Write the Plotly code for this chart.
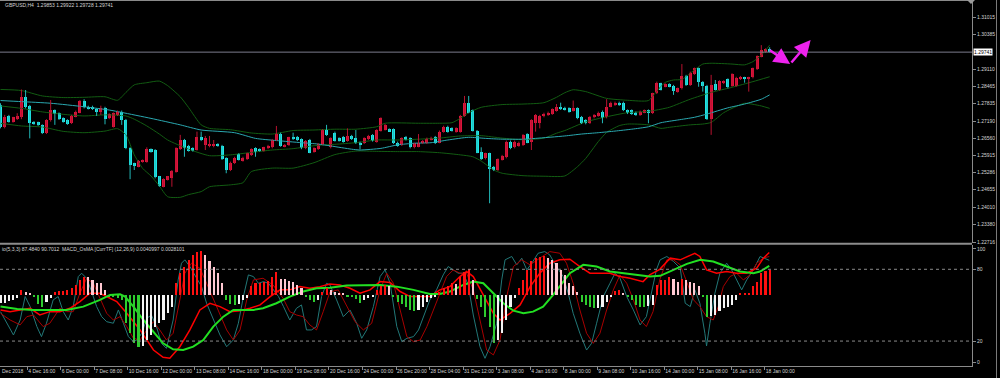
import plotly.graph_objects as go

# ---------------- price data (GBPUSD H4, bar index 0..184) ----------------
opens = [1.2779,1.2698,1.2738,1.2717,1.2727,1.2735,1.2809,1.2776,1.2717,1.2714,
         1.2703,1.2676,1.2723,1.2760,1.2748,1.2729,1.2723,1.2711,1.2735,1.2750,
         1.2795,1.2772,1.2772,1.2762,1.2751,1.2769,1.2729,1.2698,1.2742,1.2754,
         1.2723,1.2618,1.2563,1.2550,1.2569,1.2569,1.2615,1.2612,1.2514,1.2476,
         1.2501,1.2507,1.2532,1.2615,1.2649,1.2627,1.2618,1.2612,1.2661,1.2631,
         1.2627,1.2627,1.2633,1.2627,1.2581,1.2538,1.2563,1.2596,1.2573,1.2577,
         1.2594,1.2618,1.2615,1.2610,1.2618,1.2622,1.2649,1.2671,1.2624,1.2631,
         1.2659,1.2659,1.2653,1.2618,1.2649,1.2606,1.2615,1.2634,1.2686,1.2622,
         1.2676,1.2655,1.2661,1.2647,1.2664,1.2655,1.2639,1.2637,1.2652,1.2668,
         1.2643,1.2684,1.2686,1.2689,1.2689,1.2639,1.2631,1.2659,1.2655,1.2622,
         1.2624,1.2637,1.2637,1.2649,1.2661,1.2639,1.2680,1.2698,1.2692,1.2680,
         1.2680,1.2738,1.2785,1.2760,1.2684,1.2606,1.2581,1.2600,1.2550,1.2538,
         1.2575,1.2585,1.2643,1.2622,1.2627,1.2631,1.2671,1.2643,1.2713,1.2713,
         1.2738,1.2742,1.2745,1.2758,1.2772,1.2769,1.2766,1.2758,1.2766,1.2735,
         1.2723,1.2711,1.2733,1.2738,1.2754,1.2733,1.2772,1.2779,1.2787,1.2787,
         1.2760,1.2760,1.2750,1.2742,1.2750,1.2760,1.2748,1.2822,1.2859,1.2846,
         1.2856,1.2849,1.2828,1.2840,1.2886,1.2853,1.2893,1.2914,1.2865,1.2849,
         1.2726,1.2856,1.2834,1.2859,1.2873,1.2849,1.2849,1.2873,1.2881,1.2873,
         1.2881,1.2910,1.2957,1.2976,1.29853]
highs = [1.2785,1.2742,1.2742,1.2735,1.2748,1.2836,1.2834,1.2779,1.2719,1.2717,
         1.2707,1.2726,1.2797,1.2762,1.2751,1.2733,1.2726,1.2742,1.2758,1.2797,
         1.2800,1.2776,1.2776,1.2766,1.2776,1.2772,1.2748,1.2751,1.2758,1.2758,
         1.2727,1.2622,1.2565,1.2575,1.2577,1.2622,1.2618,1.2615,1.2516,1.2507,
         1.2516,1.2538,1.2622,1.2668,1.2653,1.2631,1.2622,1.2680,1.2680,1.2664,
         1.2664,1.2649,1.2637,1.2631,1.2585,1.2569,1.2587,1.2600,1.2587,1.2602,
         1.2618,1.2622,1.2618,1.2624,1.2631,1.2653,1.2701,1.2676,1.2634,1.2661,
         1.2676,1.2664,1.2655,1.2649,1.2653,1.2622,1.2637,1.2689,1.2705,1.2659,
         1.2680,1.2659,1.2664,1.2692,1.2668,1.2686,1.2643,1.2659,1.2668,1.2671,
         1.2689,1.2733,1.2708,1.2692,1.2692,1.2643,1.2659,1.2664,1.2659,1.2639,
         1.2671,1.2649,1.2658,1.2661,1.2664,1.2684,1.2702,1.2702,1.2696,1.2696,
         1.2742,1.2812,1.2812,1.2762,1.2686,1.2622,1.2602,1.2602,1.2553,1.2581,
         1.2594,1.2647,1.2647,1.2647,1.2643,1.2671,1.2674,1.2726,1.2745,1.2742,
         1.2750,1.2754,1.2766,1.2782,1.2787,1.2772,1.2770,1.2795,1.2770,1.2738,
         1.2726,1.2738,1.2745,1.2754,1.2758,1.2800,1.2791,1.2791,1.2791,1.2791,
         1.2762,1.2762,1.2754,1.2758,1.2762,1.2762,1.2824,1.2865,1.2861,1.2859,
         1.2859,1.2853,1.2843,1.2930,1.2890,1.2902,1.2917,1.2917,1.2867,1.2853,
         1.2890,1.2871,1.2870,1.2870,1.2877,1.2896,1.2883,1.2886,1.2883,1.2883,
         1.2917,1.2962,1.3000,1.2988,1.29922]
lows = [1.2692,1.2692,1.2713,1.2713,1.2723,1.2726,1.2766,1.2655,1.2705,1.2701,
        1.2671,1.2671,1.2717,1.2705,1.2723,1.2713,1.2705,1.2708,1.2733,1.2748,
        1.2766,1.2762,1.2760,1.2738,1.2742,1.2707,1.2726,1.2695,1.2738,1.2705,
        1.2615,1.2504,1.2538,1.2548,1.2565,1.2565,1.2602,1.2507,1.2476,1.2474,
        1.2499,1.2476,1.2528,1.2612,1.2587,1.2606,1.2606,1.2610,1.2645,1.2612,
        1.2622,1.2622,1.2624,1.2575,1.2526,1.2534,1.2560,1.2573,1.2569,1.2575,
        1.2590,1.2587,1.2606,1.2606,1.2615,1.2618,1.2645,1.2624,1.2622,1.2627,
        1.2649,1.2645,1.2615,1.2615,1.2600,1.2602,1.2612,1.2631,1.2664,1.2618,
        1.2643,1.2643,1.2639,1.2643,1.2649,1.2634,1.2615,1.2634,1.2649,1.2643,
        1.2639,1.2680,1.2684,1.2680,1.2634,1.2624,1.2627,1.2647,1.2618,1.2618,
        1.2622,1.2634,1.2634,1.2647,1.2634,1.2637,1.2676,1.2676,1.2680,1.2676,
        1.2676,1.2735,1.2748,1.2680,1.2600,1.2575,1.2577,1.2415,1.2534,1.2534,
        1.2573,1.2581,1.2615,1.2618,1.2624,1.2627,1.2637,1.2612,1.2680,1.2692,
        1.2733,1.2738,1.2742,1.2754,1.2760,1.2758,1.2750,1.2754,1.2726,1.2708,
        1.2707,1.2708,1.2729,1.2735,1.2711,1.2729,1.2770,1.2775,1.2775,1.2756,
        1.2745,1.2742,1.2738,1.2738,1.2748,1.2711,1.2745,1.2819,1.2832,1.2844,
        1.2844,1.2816,1.2824,1.2836,1.2849,1.2849,1.2890,1.2846,1.2828,1.2723,
        1.2668,1.2832,1.2832,1.2856,1.2840,1.2846,1.2846,1.2871,1.2861,1.2828,
        1.2877,1.2908,1.2955,1.2972,1.29728]
closes = [1.2698,1.2735,1.2717,1.2733,1.2738,1.2809,1.2772,1.2711,1.2708,1.2705,
          1.2676,1.2723,1.2760,1.2745,1.2726,1.2717,1.2708,1.2738,1.2754,1.2795,
          1.2770,1.2766,1.2762,1.2754,1.2769,1.2726,1.2745,1.2748,1.2754,1.2723,
          1.2618,1.2557,1.2553,1.2571,1.2575,1.2615,1.2606,1.2511,1.2479,1.2504,
          1.2514,1.2534,1.2618,1.2649,1.2618,1.2610,1.2610,1.2659,1.2649,1.2655,
          1.2631,1.2631,1.2627,1.2577,1.2538,1.2565,1.2584,1.2575,1.2584,1.2600,
          1.2615,1.2606,1.2610,1.2622,1.2628,1.2649,1.2671,1.2627,1.2631,1.2659,
          1.2653,1.2649,1.2618,1.2647,1.2602,1.2618,1.2634,1.2686,1.2668,1.2655,
          1.2647,1.2647,1.2643,1.2664,1.2652,1.2637,1.2631,1.2655,1.2664,1.2645,
          1.2686,1.2729,1.2705,1.2682,1.2637,1.2627,1.2655,1.2649,1.2622,1.2637,
          1.2637,1.2645,1.2654,1.2658,1.2637,1.2680,1.2698,1.2680,1.2682,1.2692,
          1.2738,1.2785,1.2750,1.2684,1.2602,1.2577,1.2600,1.2542,1.2538,1.2577,
          1.2590,1.2643,1.2618,1.2643,1.2639,1.2668,1.2639,1.2723,1.2742,1.2738,
          1.2745,1.2750,1.2762,1.2772,1.2762,1.2760,1.2754,1.2766,1.2729,1.2713,
          1.2711,1.2735,1.2742,1.2750,1.2729,1.2772,1.2787,1.2787,1.2779,1.2760,
          1.2748,1.2745,1.2742,1.2754,1.2760,1.2748,1.2822,1.2859,1.2834,1.2856,
          1.2846,1.2832,1.2840,1.2886,1.2853,1.2898,1.2914,1.2865,1.2849,1.2726,
          1.2853,1.2834,1.2867,1.2867,1.2844,1.2893,1.2877,1.2883,1.2873,1.2881,
          1.2914,1.2960,1.2982,1.2984,1.29741]

# Bollinger bands (bar index, price) and slow moving average
bb_upper = [(0,1.2836),(5,1.2832),(10,1.2812),(15,1.2806),(20,1.2807),(25,1.2809),(28,1.2796),
            (30,1.2825),(32,1.2853),(35,1.2861),(38,1.2867),(40,1.2850),(43,1.2809),(45,1.2769),
            (48,1.2705),(50,1.2692),(55,1.2687),(60,1.2675),(65,1.2671),(70,1.2684),(75,1.2686),
            (80,1.2689),(85,1.2689),(90,1.2698),(92,1.2711),(100,1.2711),(105,1.2711),(108,1.2713),
            (110,1.2729),(112,1.2750),(115,1.2770),(120,1.2780),(125,1.2782),(130,1.2787),(133,1.2807),
            (135,1.2824),(137,1.2835),(140,1.2828),(145,1.2803),(150,1.2796),(155,1.2795),(157,1.2830),
            (159,1.2862),(161,1.2871),(163,1.2873),(165,1.2896),(168,1.2930),(170,1.2933),(175,1.2930),
            (178,1.2927),(180,1.2939),(182,1.2963),(184,1.3000)]
bb_middle = [(0,1.2775),(5,1.2766),(10,1.2753),(15,1.2744),(20,1.2738),(25,1.2742),(30,1.2738),
             (32,1.2726),(35,1.2701),(38,1.2671),(40,1.2649),(45,1.2615),(50,1.2591),(55,1.2594),
             (60,1.2603),(65,1.2612),(70,1.2617),(75,1.2628),(80,1.2633),(85,1.2639),(90,1.2649),
             (95,1.2649),(100,1.2652),(105,1.2656),(110,1.2664),(115,1.2665),(120,1.2656),(125,1.2650),
             (130,1.2656),(133,1.2674),(135,1.2684),(140,1.2716),(145,1.2735),(150,1.2750),(155,1.2755),
             (158,1.2763),(160,1.2770),(165,1.2800),(170,1.2825),(175,1.2844),(180,1.2865),(184,1.2883)]
bb_lower = [(0,1.2711),(5,1.2701),(10,1.2697),(15,1.2681),(20,1.2676),(25,1.2682),(28,1.2691),
            (30,1.2668),(32,1.2594),(34,1.2544),(36,1.2516),(38,1.2479),(40,1.2439),(43,1.2437),
            (45,1.2447),(48,1.2458),(50,1.2476),(55,1.2483),(58,1.2491),(60,1.2532),(65,1.2545),
            (70,1.2545),(75,1.2565),(80,1.2595),(85,1.2608),(90,1.2607),(95,1.2606),(100,1.2606),
            (105,1.2602),(110,1.2594),(113,1.2587),(115,1.2571),(118,1.2538),(120,1.2526),(125,1.2517),
            (130,1.2515),(135,1.2516),(138,1.2550),(140,1.2581),(143,1.2643),(145,1.2677),(148,1.2702),
            (150,1.2708),(155,1.2705),(158,1.2692),(160,1.2696),(165,1.2705),(168,1.2708),(170,1.2714),
            (173,1.2750),(175,1.2766),(178,1.2785),(180,1.2781),(182,1.2775),(184,1.2766)]
slow_ma = [(0,1.2795),(5,1.2791),(12,1.2785),(20,1.2772),(26,1.2760),(29,1.2751),(36,1.2729),
           (43,1.2705),(48,1.2686),(56,1.2676),(61,1.2655),(66,1.2647),(72,1.2639),(76,1.2634),
           (79,1.2627),(84,1.2615),(86,1.2612),(91,1.2618),(95,1.2631),(99,1.2637),(103,1.2639),
           (107,1.2649),(112,1.2659),(116,1.2655),(120,1.2652),(125,1.2652),(128,1.2655),(135,1.2664),
           (139,1.2671),(143,1.2676),(147,1.2682),(151,1.2689),(155,1.2698),(158,1.2713),(162,1.2723),
           (166,1.2733),(169,1.2745),(174,1.2768),(178,1.2782),(182,1.2800),(184,1.2816)]

last_price = 1.29741
price_ticks = [1.31015,1.30385,1.29110,1.28465,1.27835,1.27190,1.26560,1.25915,1.25286,
               1.24655,1.24010,1.23380,1.22716]
forecast_bar = [183.7, 188.9, 193.8]
forecast_price = [1.29846, 1.29302, 1.30190]

# ---------------- indicator data ----------------
stoch_main = [(0,44.6),(1.5,34.9),(3.1,25.1),(4.7,37.6),(5.9,57.2),(7.1,48.8),(8.7,32.1),(9.8,23.7),
              (11.0,34.9),(12.6,54.4),(13.8,57.2),(15.0,44.6),(16.2,37.6),(17.4,48.8),(18.6,73.9),
              (19.4,76.7),(20.6,72.5),(21.8,61.4),(23.0,48.8),(24.2,40.4),(25.4,36.2),(27.0,34.9),
              (28.2,46.0),(29.4,34.9),(30.6,23.7),(31.8,19.5),(32.6,20.9),(33.8,26.5),(35.0,39.0),
              (36.1,41.8),(37.3,32.1),(38.5,18.1),(39.7,13.9),(41.3,37.6),(42.5,71.1),(43.3,85.1),
              (44.1,87.9),(45.3,82.3),(46.9,72.5),(48.1,65.5),(49.3,51.6),(50.9,37.6),(52.5,25.1),
              (54.1,15.3),(55.7,20.9),(56.9,34.9),(58.1,57.2),(59.3,75.3),(60.5,73.9),(61.7,68.3),
              (62.9,69.7),(64.1,68.3),(65.3,62.8),(66.5,57.2),(67.7,48.8),(69.2,37.6),(70.8,47.4),
              (72.0,50.2),(73.2,29.3),(74.4,29.3),(75.6,32.1),(76.8,57.2),(78.0,68.3),(78.8,66.9),
              (80.4,54.4),(82.0,40.4),(83.6,46.0),(85.2,34.9),(86.4,22.3),(87.6,29.3),(89.2,48.8),
              (90.8,73.9),(92.0,79.5),(93.2,68.3),(94.8,32.1),(96.0,19.5),(97.2,22.3),(98.8,23.7),
              (100.0,29.3),(101.2,40.4),(102.7,54.4),(104.3,62.8),(105.9,75.3),(107.1,82.3),(108.3,79.5),
              (109.5,76.7),(110.7,76.7),(111.9,66.9),(113.1,41.8),(114.7,15.3),(115.9,5.6),(117.1,15.3),
              (118.7,34.9),(119.9,71.1),(120.7,87.9),(122.3,90.7),(123.5,83.7),(124.7,89.3),(125.9,79.5),
              (127.1,85.1),(128.6,93.4),(130.2,94.8),(131.4,92.0),(133.0,82.3),(134.6,73.9),(135.8,60.0),
              (137.0,43.2),(138.6,26.5),(140.2,12.5),(141.4,18.1),(142.6,34.9),(144.2,57.2),(145.8,68.3),
              (147.0,76.7),(148.2,72.5),(149.8,57.2),(151.4,46.0),(153.0,33.5),(154.5,40.4),(155.7,60.0),
              (156.9,79.5),(157.8,87.9),(159.4,90.7),(161.0,86.5),(162.6,80.9),(163.8,51.6),(165.0,48.8),
              (166.1,62.8),(167.3,51.6),(168.5,26.5),(168.9,15.9),(169.7,34.9),(170.9,60.0),(172.1,76.7),
              (173.7,85.1),(174.9,79.5),(176.1,71.1),(177.3,62.8),(178.5,71.1),(180.1,79.5),(181.7,90.7),
              (182.9,89.3),(183.9,87.5)]
stoch_signal = [(0,43.2),(2.3,37.6),(4.7,33.5),(6.3,40.4),(7.9,41.8),(10.2,32.1),(11.8,34.9),(14.2,47.4),
                (15.8,44.6),(17.4,44.6),(19.0,60.0),(20.6,72.5),(22.2,68.3),(23.8,55.8),(25.4,43.2),
                (27.0,37.6),(28.6,40.4),(30.2,32.1),(31.8,22.3),(33.4,20.9),(35.0,29.3),(36.6,36.2),
                (38.1,29.3),(39.7,20.9),(41.3,26.5),(42.9,54.4),(44.1,76.7),(45.7,85.1),(47.7,80.9),
                (49.3,68.3),(51.7,48.8),(54.1,29.3),(55.7,20.9),(57.3,29.3),(58.9,54.4),(60.5,71.1),
                (62.8,72.5),(65.2,66.9),(67.6,55.8),(69.2,44.6),(70.8,41.8),(72.4,40.4),(74.0,33.5),
                (75.6,29.3),(77.2,44.6),(78.8,61.0),(80.8,62.8),(82.8,48.8),(84.8,36.2),(86.8,29.3),
                (88.8,34.9),(90.8,62.8),(92.4,76.7),(94.0,68.3),(95.6,46.0),(97.2,23.7),(98.8,19.5),
                (100.4,20.9),(102.0,32.1),(103.5,46.0),(105.1,60.0),(106.7,73.9),(108.3,79.5),(109.9,76.7),
                (111.5,76.7),(113.1,62.8),(114.7,37.6),(116.3,12.5),(117.9,8.4),(119.5,20.9),(121.1,57.2),
                (122.7,82.3),(124.7,87.9),(126.7,83.7),(129.0,89.3),(131.4,94.8),(133.8,93.4),(135.4,85.1),
                (137.0,68.3),(138.6,46.0),(140.2,26.5),(141.8,18.1),(143.4,26.5),(145.0,46.0),(146.6,62.8),
                (148.2,75.3),(149.8,68.3),(151.4,54.4),(153.0,37.6),(154.5,32.1),(156.1,44.6),(157.7,71.1),
                (159.4,87.9),(161.0,87.9),(162.6,83.7),(164.2,68.3),(165.8,54.4),(167.3,48.8),(168.9,40.4),
                (170.5,37.6),(171.7,48.8),(172.9,65.5),(174.5,73.9),(176.1,76.7),(177.7,71.1),(179.3,75.3),
                (180.9,85.1),(182.5,89.3),(183.9,90.7)]
fast_red = [(0,46.0),(2.3,44.6),(4.7,46.0),(7.1,47.4),(9.4,41.8),(11.8,44.6),(14.2,44.6),(16.6,47.4),
            (19.0,53.0),(21.4,60.0),(23.8,60.0),(25.4,57.2),(27.8,53.0),(30.2,43.2),(33.4,29.3),
            (36.6,12.5),(38.9,6.4),(40.5,5.6),(42.9,15.3),(45.3,29.3),(47.7,46.0),(50.1,51.6),
            (52.5,48.8),(54.9,44.6),(57.3,45.4),(59.7,47.4),(62.1,50.2),(64.5,57.2),(66.9,62.8),
            (69.2,62.8),(71.6,65.5),(74.0,64.1),(76.4,65.5),(78.8,67.6),(81.2,66.9),(83.6,64.1),
            (86.0,60.0),(88.4,62.8),(90.8,69.7),(93.2,68.9),(95.6,61.4),(98.0,57.2),(100.4,57.2),
            (102.7,57.2),(105.1,62.8),(107.5,65.5),(109.9,73.9),(111.5,78.1),(113.1,73.9),(115.5,58.6),
            (117.9,43.2),(119.5,37.6),(121.9,43.2),(124.3,50.2),(126.7,65.5),(129.0,76.7),(131.4,85.1),
            (133.8,87.9),(136.2,88.4),(138.6,82.3),(141.0,76.7),(143.4,76.7),(145.8,76.7),(148.2,73.9),
            (150.6,72.5),(153.7,69.7),(155.3,75.3),(157.7,80.0),(160.2,89.3),(162.6,87.9),(165.0,92.0),
            (166.1,93.4),(167.3,90.7),(168.9,79.5),(171.3,76.7),(173.7,78.1),(176.1,76.7),(178.5,76.7),
            (180.9,80.9),(182.5,89.3),(183.9,94.0)]
slow_green = [(0,48.8),(4.0,46.9),(7.9,46.0),(11.8,46.0),(15.8,46.0),(19.8,48.8),(23.8,54.4),(26.2,58.6),
              (28.6,59.1),(29.8,57.2),(31.8,48.8),(34.2,37.6),(36.6,27.9),(38.9,18.1),(41.3,13.1),
              (43.7,12.5),(46.1,15.3),(48.5,20.9),(50.9,32.1),(53.3,40.4),(55.7,46.0),(58.1,46.0),
              (60.5,46.0),(62.8,47.4),(66.0,51.6),(69.2,57.2),(72.4,61.4),(75.6,64.1),(78.8,64.6),
              (82.8,66.4),(86.8,66.9),(90.8,66.9),(94.8,65.5),(98.8,62.8),(102.7,59.4),(105.1,59.4),
              (107.5,61.4),(110.7,66.9),(113.1,69.7),(115.5,68.3),(117.9,60.0),(120.3,51.6),(122.7,45.4),
              (125.1,43.2),(127.4,44.6),(129.8,48.8),(132.2,58.6),(134.6,69.7),(136.2,76.7),(139.4,83.7),
              (142.6,82.3),(145.8,78.1),(149.0,76.7),(152.2,75.3),(155.3,73.9),(157.8,74.5),(161.0,79.5),
              (164.2,84.5),(167.4,87.9),(170.5,86.5),(173.7,82.3),(176.9,78.1),(180.1,76.7),(181.7,78.1),
              (183.9,82.8)]
osma = [-0.0013,-0.0013,-0.0010,-0.0008,-0.0005,0.0008,0.0005,0.0004,-0.0002,-0.0014,
        -0.0019,-0.0011,-0.0005,0.0005,0.0006,0.0007,0.0008,0.0011,0.0016,0.0025,
        0.0030,0.0029,0.0025,0.0020,0.0019,0.0008,-0.0002,-0.0003,-0.0005,-0.0008,
        -0.0046,-0.0063,-0.0079,-0.0085,-0.0084,-0.0074,-0.0066,-0.0052,-0.0046,-0.0041,
        -0.0030,-0.0019,0.0019,0.0036,0.0046,0.0057,0.0066,0.0071,0.0072,0.0066,
        0.0055,0.0046,0.0036,0.0019,-0.0008,-0.0014,-0.0016,-0.0014,-0.0008,-0.0005,
        0.0014,0.0019,0.0020,0.0022,0.0023,0.0030,0.0037,0.0027,0.0026,0.0023,
        0.0022,0.0016,0.0011,-0.0003,-0.0008,-0.0011,-0.0008,0.0005,0.0011,0.0008,
        0.0005,0.0004,0.0003,-0.0002,-0.0003,-0.0007,-0.0013,-0.0008,-0.0005,-0.0003,
        0.0008,0.0014,0.0016,0.0014,-0.0002,-0.0011,-0.0014,-0.0019,-0.0025,-0.0026,
        -0.0025,-0.0019,-0.0011,-0.0005,-0.0003,0.0005,0.0011,0.0014,0.0019,0.0018,
        0.0030,0.0038,0.0042,0.0025,-0.0007,-0.0019,-0.0036,-0.0052,-0.0079,-0.0074,
        -0.0063,-0.0041,-0.0019,-0.0005,0.0011,0.0025,0.0041,0.0055,0.0060,0.0063,
        0.0064,0.0060,0.0057,0.0052,0.0041,0.0033,0.0019,0.0014,0.0005,-0.0011,
        -0.0016,-0.0019,-0.0022,-0.0021,-0.0019,-0.0011,-0.0003,0.0007,0.0008,0.0003,
        -0.0003,-0.0008,-0.0016,-0.0019,-0.0020,-0.0018,-0.0016,0.0016,0.0025,0.0025,
        0.0030,0.0027,0.0022,0.0027,0.0025,0.0022,0.0019,0.0014,-0.0002,-0.0036,
        -0.0035,-0.0033,-0.0027,-0.0022,-0.0019,-0.0016,-0.0008,0.0002,0.0002,0.0003,
        0.0014,0.0022,0.0036,0.0040,0.0041]

time_labels = ["4 Dec 16:00","6 Dec 00:00","7 Dec 08:00","10 Dec 16:00","12 Dec 00:00",
               "13 Dec 08:00","14 Dec 16:00","18 Dec 00:00","19 Dec 08:00","20 Dec 16:00",
               "24 Dec 00:00","26 Dec 20:00","28 Dec 04:00","31 Dec 12:00","3 Jan 08:00",
               "4 Jan 16:00","8 Jan 00:00","9 Jan 08:00","10 Jan 16:00","14 Jan 00:00",
               "15 Jan 08:00","16 Jan 16:00","18 Jan 00:00"]
label_bars = [6.4 + 8.02 * i for i in range(len(time_labels))]

# ---------------- styling ----------------
RED_BODY, RED_WICK = "#dc143c", "#b8122f"
CYAN_BODY, CYAN_WICK = "#1ee8e8", "#22b8b8"
AXIS_C = "#8a8a8a"
TXT_C = "#d4d4d4"
FONT = "Liberation Sans"
XR = [-0.12, 232.4]

fig = go.Figure()

n = len(opens)
bars = list(range(n))
up = [i for i in bars if closes[i] >= opens[i]]
dn = [i for i in bars if closes[i] < opens[i]]

def wick_trace(idx, color):
    xs, ys = [], []
    for i in idx:
        xs += [i, i, None]
        ys += [lows[i], highs[i], None]
    return go.Scatter(x=xs, y=ys, mode="lines", line=dict(color=color, width=1),
                      hoverinfo="skip", xaxis="x", yaxis="y")

def body_trace(idx, color):
    return go.Bar(x=idx,
                  y=[max(abs(closes[i] - opens[i]), 0.0004) for i in idx],
                  base=[min(opens[i], closes[i]) for i in idx],
                  width=0.72, marker=dict(color=color, line=dict(width=0)),
                  hoverinfo="skip", xaxis="x", yaxis="y")

for series in (bb_upper, bb_middle, bb_lower):
    fig.add_trace(go.Scatter(x=[p[0] for p in series], y=[p[1] for p in series], mode="lines",
                             line=dict(color="#125c12", width=1, shape="spline", smoothing=0.6),
                             hoverinfo="skip", xaxis="x", yaxis="y"))
fig.add_trace(go.Scatter(x=[p[0] for p in slow_ma], y=[p[1] for p in slow_ma], mode="lines",
                         line=dict(color="#2aa8b0", width=1, shape="spline", smoothing=0.6),
                         hoverinfo="skip", xaxis="x", yaxis="y"))

fig.add_trace(wick_trace(up, RED_WICK))
fig.add_trace(wick_trace(dn, CYAN_WICK))
fig.add_trace(body_trace(up, RED_BODY))
fig.add_trace(body_trace(dn, CYAN_BODY))

hist_colors = []
for i, v in enumerate(osma):
    prev = osma[i - 1] if i > 0 else v
    if v >= 0:
        hist_colors.append("#ff1010" if v >= prev else "#ffc8d2")
    else:
        hist_colors.append("#2ecc2e" if v < prev else "#f4f4f4")
fig.add_trace(go.Bar(x=bars, y=osma, width=0.5, marker=dict(color=hist_colors, line=dict(width=0)),
                     hoverinfo="skip", xaxis="x2", yaxis="y3"))

for series, color, w in [(stoch_main, "#227878", 1), (stoch_signal, "#a80000", 1),
                         (fast_red, "#ff0000", 1.5), (slow_green, "#22e022", 2)]:
    fig.add_trace(go.Scatter(x=[p[0] for p in series], y=[p[1] for p in series], mode="lines",
                             line=dict(color=color, width=w),
                             hoverinfo="skip", xaxis="x2", yaxis="y2"))

# ---------------- layout ----------------
PLOT_TOP, PLOT_BOT = 1, 366
H_PLOT = PLOT_BOT - PLOT_TOP
def py(ypix):
    return (PLOT_BOT - ypix) / H_PLOT

tickfont = dict(family=FONT, size=5, color=TXT_C)
fig.update_layout(
    width=1000, height=378,
    margin=dict(l=0, r=28, t=PLOT_TOP, b=378 - PLOT_BOT, autoexpand=False),
    paper_bgcolor="black", plot_bgcolor="black",
    showlegend=False, barmode="overlay", bargap=0,
    font=dict(family=FONT, size=5, color=TXT_C),
    xaxis=dict(domain=[0, 1], range=XR, anchor="y", showticklabels=False, ticks="",
               showgrid=False, zeroline=False, showline=False, automargin=False),
    yaxis=dict(domain=[py(243), 1], range=[1.22679, 1.31633], side="right", anchor="x",
               tickvals=price_ticks, ticktext=[f"{v:.5f}" for v in price_ticks],
               ticks="outside", ticklen=3, tickcolor=AXIS_C, showline=True, linecolor=AXIS_C,
               linewidth=1, showgrid=False, zeroline=False, automargin=False, tickfont=tickfont),
    xaxis2=dict(domain=[0, 1], range=XR, anchor="y2", tickvals=label_bars, ticktext=time_labels,
                ticks="outside", ticklen=3, tickcolor=AXIS_C, ticklabelposition="outside right",
                tickangle=0, showline=True, linecolor=AXIS_C, linewidth=1, showgrid=False,
                zeroline=False, automargin=False, tickfont=tickfont),
    yaxis2=dict(domain=[0, py(245)], range=[-0.84, 100.3], side="right", anchor="x2",
                tickvals=[2, 20, 80, 97], ticktext=["0", "20", "80", "100"],
                ticks="outside", ticklen=3, tickcolor=AXIS_C, showline=True, linecolor=AXIS_C,
                linewidth=1, showgrid=False, zeroline=False, automargin=False, tickfont=tickfont),
    yaxis3=dict(overlaying="y2", anchor="x2", range=[-0.011644, 0.0082], visible=False,
                showgrid=False, zeroline=False),
)

shapes = [
    dict(type="line", xref="paper", yref="paper", x0=0, x1=1, y0=py(0.5), y1=py(0.5),
         line=dict(color=AXIS_C, width=1)),
    dict(type="line", xref="paper", yref="paper", x0=0, x1=1, y0=py(243.8), y1=py(243.8),
         line=dict(color="#8c8c8c", width=2)),
    dict(type="line", xref="paper", yref="paper", x0=996.5 / 972, x1=996.5 / 972, y0=py(378), y1=py(0),
         line=dict(color="#7a7a7a", width=1)),
    dict(type="line", xref="paper", yref="y", x0=0, x1=1, y0=last_price, y1=last_price,
         line=dict(color="#7c7c8c", width=1)),
    dict(type="line", xref="paper", yref="y2", x0=0, x1=1, y0=80, y1=80,
         line=dict(color="#8a8a8a", width=1, dash="dot")),
    dict(type="line", xref="paper", yref="y2", x0=0, x1=1, y0=20, y1=20,
         line=dict(color="#8a8a8a", width=1, dash="dot")),
    dict(type="path", xref="paper", yref="paper",
         path=f"M {967/972} {py(0)} L {975/972} {py(0)} L {971/972} {py(4)} Z",
         fillcolor="#9a9a9a", line=dict(width=0)),
]
fig.update_layout(shapes=shapes)

annotations = [
    dict(xref="paper", yref="paper", x=3 / 972, y=py(5), xanchor="left", yanchor="middle",
         text="GBPUSD,H4  1.29853 1.29922 1.29728 1.29741", showarrow=False,
         font=dict(family=FONT, size=5, color=TXT_C)),
    dict(xref="paper", yref="paper", x=0, y=py(249), xanchor="left", yanchor="middle",
         text="io(5,3,3) 87.4840 90.7012  MACD_OsMA [CurrTF] (12,26,9) 0.0040997 0.0028101",
         showarrow=False, font=dict(family=FONT, size=5, color=TXT_C)),
    dict(xref="paper", yref="paper", x=0, y=py(371), xanchor="left", yanchor="middle",
         text="Dec 2018", showarrow=False, font=dict(family=FONT, size=5, color=TXT_C)),
    dict(xref="paper", yref="y", x=1.001, y=last_price, xanchor="left", yanchor="middle",
         text="1.29741", showarrow=False, bgcolor="white", borderpad=0,
         font=dict(family=FONT, size=5, color="black")),
]
for j in range(len(forecast_bar) - 1):
    annotations.append(dict(
        x=forecast_bar[j + 1], y=forecast_price[j + 1], ax=forecast_bar[j], ay=forecast_price[j],
        xref="x", yref="y", axref="x", ayref="y", text="", showarrow=True,
        arrowhead=2, arrowsize=1.3, arrowwidth=2.5, arrowcolor="#ee22ee"))
fig.update_layout(annotations=annotations)

fig.write_html("out.html")
